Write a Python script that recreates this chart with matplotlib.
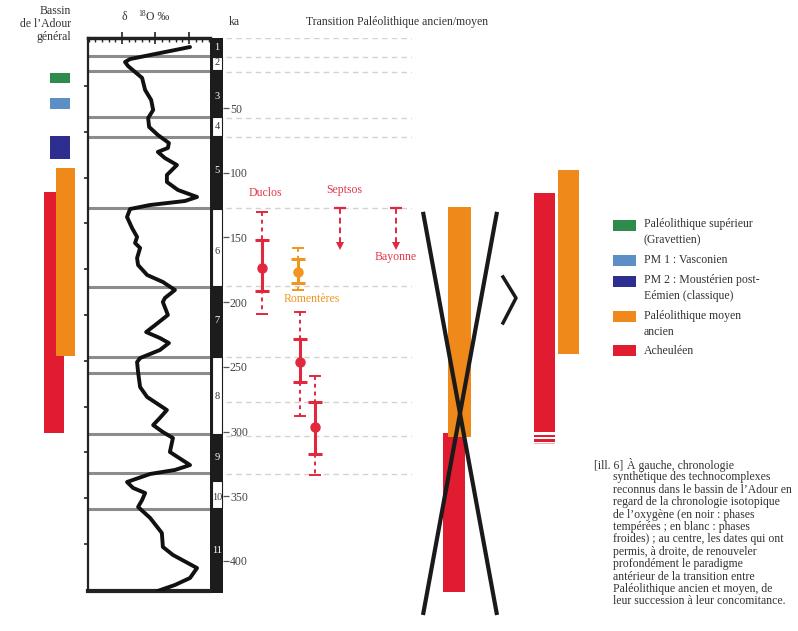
import matplotlib
matplotlib.use('Agg')
import matplotlib.pyplot as plt
import numpy as np
from matplotlib.patches import Rectangle
from matplotlib.ticker import FixedLocator, MultipleLocator

plt.rcParams['font.family'] = ['Liberation Serif', 'DejaVu Serif']

# ---------------- data ----------------
# oxygen isotope curve (age in ka, delta 18O in permil)
curve_ka = [2.8, 12.1, 14.4, 17.5, 22.1, 26.7, 36.0, 43.7, 51.5, 57.7, 64.6, 70.8, 77.0, 80.8,
            83.9, 88.6, 94.0, 101.7, 107.1, 113.3, 118.7, 121.8, 124.9, 128.0, 134.2, 142.7,
            149.6, 154.3, 158.1, 165.9, 171.3, 179.0, 184.4, 190.6, 196.8, 199.9, 209.9, 217.7,
            223.1, 227.7, 231.6, 237.0, 243.2, 246.3, 254.0, 265.6, 273.3, 283.4, 289.5, 295.0,
            300.4, 305.0, 315.8, 325.9, 329.7, 332.8, 339.0, 343.6, 347.5, 352.9, 358.3, 366.8,
            378.4, 389.2, 395.4, 405.5, 413.2, 418.6, 423.2]
curve_d18o = [2.97, 4.76, 4.91, 4.82, 4.61, 4.40, 4.31, 4.13, 4.07, 4.22, 4.19, 3.93, 3.60, 3.63,
              3.93, 3.72, 3.36, 3.66, 3.66, 3.33, 2.76, 3.12, 4.16, 4.76, 4.85, 4.70,
              4.55, 4.61, 4.46, 4.55, 4.52, 4.25, 3.78, 3.42, 3.72, 3.78, 3.63, 4.01,
              4.28, 3.87, 3.60, 3.87, 4.46, 4.55, 4.52, 4.46, 4.25, 3.66, 3.87, 4.07,
              3.78, 3.48, 3.57, 2.97, 3.42, 4.16, 4.85, 4.67, 4.31, 4.40, 4.52, 4.16,
              3.81, 3.78, 3.48, 2.76, 2.97, 3.42, 3.93]
mis_boundaries_ka = [9.7, 21.3, 57.0, 72.3, 127.2, 188.3, 242.4, 254.8, 301.9, 332.0, 359.9]
stage_labels = ['1', '2', '3', '4', '5', '6', '7', '8', '9', '10', '11']
stage_label_ka = [2.8, 15.1, 40.7, 64.6, 97.9, 160.5, 213.8, 273.3, 320.4, 350.6, 391.6]
cold_start_ka = [10.5, 57.0, 128.0, 242.4, 338.2]
cold_end_ka = [20.6, 71.6, 187.5, 301.9, 359.1]
left_tick_ka = [32.9, 68.5, 104.0, 138.8, 174.4, 209.9, 245.5, 281.0, 315.8, 351.4, 386.9]
ka_ticks = [50, 100, 150, 200, 250, 300, 350, 400]
grid_ka = [-4.2, 10.5, 22.1, 57.7, 72.3, 127.2, 187.5, 242.4, 277.2, 303.5, 332.8]

# technocomplexes (Adour basin)
tc_names = ['Paléolithique supérieur\n(Gravettien)', 'PM 1 : Vasconien',
            'PM 2 : Moustérien post-\nEémien (classique)', 'Paléolithique moyen\nancien',
            'Acheuléen']
tc_colors = ['#2f8b4c', '#5b8fc6', '#2d2e8f', '#ef8a1a', '#e11b30']
adour_start_ka = [22.9, 42.2, 71.6, 96.3, 114.9]
adour_end_ka = [30.6, 50.7, 89.4, 241.6, 301.1]

# dates
date_sites = ['Duclos', 'Romentères', '', '']
date_colors = ['#e1283c', '#f0961e', '#e1283c', '#e1283c']
date_ka = [173.6, 176.7, 246.3, 296.5]
date_in_lo = [151.9, 166.7, 228.3, 277.2]
date_in_hi = [191.4, 185.2, 261.7, 317.4]
date_out_lo = [130.2, 158.1, 207.6, 257.1]
date_out_hi = [209.2, 190.6, 288.0, 333.6]
min_sites = ['Septsos', 'Bayonne']
min_age_ka = [127.2, 127.2]
min_arrow_ka = [156.6, 156.6]

# old paradigm (succession) and new paradigm (concomitance)
old_orange_ka = (126.4, 304.2)
old_red_ka = (301.1, 424.0)
cross_ka = (130.2, 441.8)
new_red_ka = (115.4, 300.3)
new_red_stripes_ka = [(302.7, 304.3), (305.4, 307.7)]
new_orange_ka = (97.9, 240.1)
chevron_ka = [180.5, 196.8, 216.1]

caption_lines = ['À gauche, chronologie',
                 'synthétique des technocomplexes',
                 'reconnus dans le bassin de l’Adour en',
                 'regard de la chronologie isotopique',
                 'de l’oxygène (en noir : phases',
                 'tempérées ; en blanc : phases',
                 'froides) ; au centre, les dates qui ont',
                 'permis, à droite, de renouveler',
                 'profondément le paradigme',
                 'antérieur de la transition entre',
                 'Paléolithique ancien et moyen, de',
                 'leur succession à leur concomitance.']

# ---------------- layout ----------------
W, H = 798, 631
PX_PER_KA = 1.2938
KA0_PX = 43.4


def ka_of(px):
    return (px - KA0_PX) / PX_PER_KA


def rect(x0, x1, y0, y1):
    return [x0 / W, 1 - y1 / H, (x1 - x0) / W, (y1 - y0) / H]


TEXT = '#333333'
fig = plt.figure(figsize=(W / 100, H / 100), dpi=100)

# main full-figure axes (x: column pixels, y: ka)
ax = fig.add_axes([0, 0, 1, 1])
ax.set_xlim(0, W)
ax.set_ylim(ka_of(H), ka_of(0))
ax.axis('off')
ax.set_facecolor('none')

# left technocomplex bars
col_x = [60, 60, 60, 65.5, 54]
col_w = [20, 20, 20, 19, 20]
order = [4, 3, 0, 1, 2]
for i in order:
    ax.bar(col_x[i], adour_end_ka[i] - adour_start_ka[i], bottom=adour_start_ka[i],
           width=col_w[i], color=tc_colors[i], linewidth=0)

# stage bar
ax.bar(216.5, ka_of(593) - ka_of(38), bottom=ka_of(38), width=13, color='#1c1c1c', linewidth=0)
for s, e in zip(cold_start_ka, cold_end_ka):
    ax.bar(217, e - s, bottom=s, width=9.5, color='white', edgecolor='#1c1c1c', linewidth=0.8)
for lab, k in zip(stage_labels, stage_label_ka):
    odd = int(lab) % 2 == 1
    ax.text(217, k, lab, ha='center', va='center', fontsize=7.5,
            color='white' if odd else '#333333')

# middle: old paradigm with X
ax.bar(454, old_red_ka[1] - old_red_ka[0], bottom=old_red_ka[0], width=22,
       color=tc_colors[4], linewidth=0)
ax.bar(459.5, old_orange_ka[1] - old_orange_ka[0], bottom=old_orange_ka[0], width=23,
       color=tc_colors[3], linewidth=0)
ax.plot([423, 497], list(cross_ka), color='#1a1a1a', lw=3, solid_capstyle='butt')
ax.plot([497, 423], list(cross_ka), color='#1a1a1a', lw=3, solid_capstyle='butt')

# chevron
ax.plot([503, 516, 503], chevron_ka, color='#1a1a1a', lw=2.5)

# right: new paradigm
ax.bar(544.5, new_red_ka[1] - new_red_ka[0], bottom=new_red_ka[0], width=21,
       color=tc_colors[4], linewidth=0)
for s, e in new_red_stripes_ka:
    ax.bar(544.5, e - s, bottom=s, width=21, color=tc_colors[4], linewidth=0)
ax.bar(544.5, 0.7, bottom=308.8, width=21, color=tc_colors[4], alpha=0.35, linewidth=0)
ax.bar(568.5, new_orange_ka[1] - new_orange_ka[0], bottom=new_orange_ka[0], width=21,
       color=tc_colors[3], linewidth=0)

# isotope panel
ax_iso = fig.add_axes(rect(88, 210, 38, 591))
ax_iso.set_ylim(ka_of(591), ka_of(38))
ax_iso.set_xlim(6.015, 2.373)
ax_iso.set_facecolor('none')
for k in mis_boundaries_ka:
    ax_iso.axhline(k, color='#8c8c8c', lw=2.2, zorder=1)
ax_iso.plot(curve_d18o, curve_ka, color='#111111', lw=2.8, solid_joinstyle='round',
            solid_capstyle='round', zorder=3)
ax_iso.spines['right'].set_visible(False)
ax_iso.spines['top'].set_linewidth(2.5)
ax_iso.spines['bottom'].set_linewidth(3)
ax_iso.spines['left'].set_linewidth(1.6)
for sp in ax_iso.spines.values():
    sp.set_color('#222222')
ax_iso.xaxis.set_ticks_position('top')
ax_iso.xaxis.set_major_locator(FixedLocator([5, 4, 3]))
ax_iso.xaxis.set_minor_locator(MultipleLocator(0.2))
ax_iso.tick_params(axis='x', which='major', direction='inout', length=8, width=1.2,
                   color='#222222', labeltop=False, labelbottom=False)
ax_iso.tick_params(axis='x', which='minor', direction='in', length=3, width=1,
                   color='#222222')
ax_iso.yaxis.set_major_locator(FixedLocator(left_tick_ka))
ax_iso.tick_params(axis='y', which='major', direction='out', length=3, width=1.2,
                   color='#222222', labelleft=False)

# ka axis + dates
ax_k = fig.add_axes(rect(223, 412, 38, 591))
ax_k.set_ylim(ka_of(591), ka_of(38))
ax_k.set_xlim(223, 412)
ax_k.set_facecolor('none')
for sp in ax_k.spines.values():
    sp.set_visible(False)
ax_k.set_xticks([])
ax_k.yaxis.set_major_locator(FixedLocator(ka_ticks))
ax_k.tick_params(axis='y', direction='in', length=4, width=0.9, color='#555555',
                 pad=-5, labelsize=8.5, labelcolor='#444444')
for t in ax_k.get_yticklabels():
    t.set_horizontalalignment('left')
ax_k.hlines(grid_ka, 226, 412, colors='#d2d2d2', linestyles=(0, (4, 3)), lw=1, zorder=0)

date_x = [262, 298, 300, 315]
for x, c, col, ilo, ihi, olo, ohi in zip(date_x, date_ka, date_colors, date_in_lo,
                                          date_in_hi, date_out_lo, date_out_hi):
    eb = ax_k.errorbar(x, c, yerr=[[c - olo], [ohi - c]], fmt='none', ecolor=col,
                       elinewidth=1.4, capsize=4.3, capthick=1.4, zorder=2)
    eb[2][0].set_linestyle((0, (2, 2)))
    ax_k.errorbar(x, c, yerr=[[c - ilo], [ihi - c]], fmt='o', color=col, ms=6.5,
                  elinewidth=2.2, capsize=5, capthick=2.2, zorder=3)

min_x = [340, 396]
for x, a, b in zip(min_x, min_age_ka, min_arrow_ka):
    ax_k.plot([x, x], [a, b - 3], color='#e1283c', lw=1.4, ls=(0, (3, 2)))
    ax_k.plot([x], [a], marker='_', ms=8.6, mew=1.6, color='#e1283c')
    ax_k.plot([x], [b], marker='v', ms=6, color='#e1283c', mew=0)

LBL_RED = '#e0384b'
ax_k.text(265, ka_of(193), 'Duclos', ha='center', va='center', fontsize=8.5, color=LBL_RED)
ax_k.text(312, ka_of(299), 'Romentères', ha='center', va='center', fontsize=8.5, color='#f0961e')
ax_k.text(344, ka_of(190), 'Septsos', ha='center', va='center', fontsize=8.5, color=LBL_RED)
ax_k.text(396, ka_of(257), 'Bayonne', ha='center', va='center', fontsize=8.5, color=LBL_RED)

# overlay for headers, legend and caption (pixel coordinates)
ov = fig.add_axes([0, 0, 1, 1])
ov.set_xlim(0, W)
ov.set_ylim(H, 0)
ov.axis('off')
ov.set_facecolor('none')

for yy, s in zip([11, 24, 37], ['Bassin', 'de l’Adour', 'général']):
    ov.text(71, yy, s, ha='right', va='center', fontsize=8.5, color=TEXT)
ov.text(121, 17, 'δ', ha='left', va='center', fontsize=8.5, color=TEXT)
ov.text(138, 14, '18', ha='left', va='center', fontsize=5.5, color=TEXT)
ov.text(146, 17, 'O ‰', ha='left', va='center', fontsize=8.5, color=TEXT)
ov.text(229, 22, 'ka', ha='left', va='center', fontsize=8.5, color=TEXT)
ov.text(306, 22, 'Transition Paléolithique ancien/moyen', ha='left', va='center',
        fontsize=8.5, color=TEXT)

# legend
leg_patch_y = [220, 255, 275.5, 311, 344.5]
leg_text_y = [224.5, 260, 280.5, 316.5, 351]
for i in range(len(tc_names)):
    ov.add_patch(Rectangle((613, leg_patch_y[i]), 23, 11, color=tc_colors[i], lw=0))
    for j, line in enumerate(tc_names[i].split('\n')):
        ov.text(644, leg_text_y[i] + j * 15.5, line, ha='left', va='center',
                fontsize=8.5, color=TEXT)

# caption
ov.text(594, 465, '[ill. 6]', ha='left', va='center', fontsize=8.5, color=TEXT)
for i, line in enumerate(caption_lines):
    x0 = 627 if i == 0 else 613
    ov.text(x0, 465 + i * 12.4, line, ha='left', va='center', fontsize=8.5, color=TEXT)

fig.savefig('out.png', dpi=100, facecolor='white')
